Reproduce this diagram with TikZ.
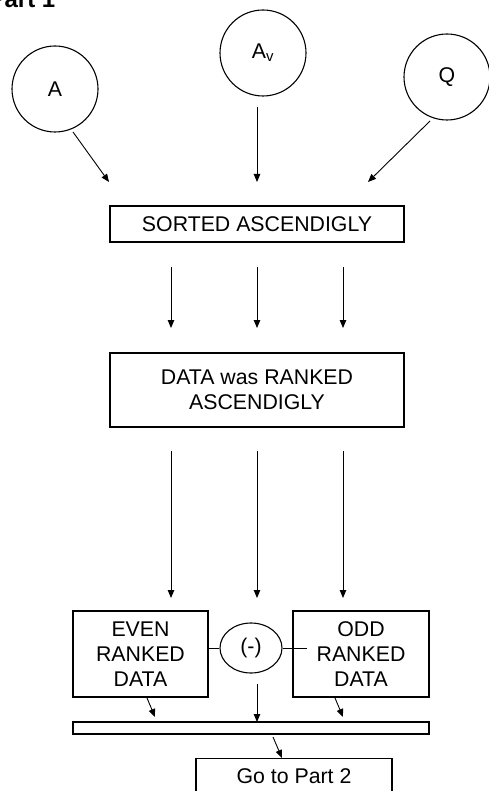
\documentclass[tikz,border=0pt]{standalone}
\usepackage{fontspec}
\setmainfont{Liberation Sans}
\usetikzlibrary{arrows.meta,shapes.geometric}
\begin{document}
\begin{tikzpicture}[x=1pt,y=-1pt,
  txt/.style={font=\fontsize{21.3}{25}\selectfont},
  box/.style={txt,draw,line width=1.1pt,inner sep=0pt,align=center},
  circ/.style={txt,draw,circle,line width=1.1pt,minimum size=86pt,inner sep=0pt},
  arr/.style={line width=0.9pt,-{Triangle[length=8pt,width=6.5pt]}},
  ln/.style={line width=0.9pt}]
\useasboundingbox (0,0) rectangle (489,791);
% title
\node[font=\bfseries\fontsize{24}{28}\selectfont,anchor=base east,inner sep=0pt] (title) at (55.5,8) {Part 1};
% circles
\node[circ] (A) at (55,89) {A};
\node[circ] (Av) at (263,53) {A\textsubscript{v}};
\node[circ] (Q) at (447,77) {Q};
% boxes
\node[box,minimum width=294pt,minimum height=36pt] (sorted) at (257,224) {SORTED ASCENDIGLY};
\node[box,minimum width=294pt,minimum height=74pt] (ranked) at (257,390) {DATA was RANKED\\ASCENDIGLY};
\node[box,minimum width=135pt,minimum height=86pt] (even) at (140.5,654) {EVEN\\RANKED\\DATA};
\node[box,minimum width=136pt,minimum height=86pt] (odd) at (361,654) {ODD\\RANKED\\DATA};
\node[txt,draw,ellipse,line width=1.1pt,minimum width=62pt,minimum height=50pt,inner sep=0pt] (minus) at (251,648) {(-)};
\node[draw,line width=1.1pt,minimum width=356pt,minimum height=12pt,inner sep=0pt] (bar) at (251,728) {};
\node[box,anchor=north,minimum width=196pt,text height=15pt,text depth=4pt,inner ysep=9.5pt] (go) at (294,758) {Go to Part 2};
% arrows from circles
\coordinate (a1) at (73,132); \coordinate (a2) at (109,182);
\coordinate (v1) at (257,107); \coordinate (v2) at (257,182);
\coordinate (q1) at (430,121); \coordinate (q2) at (368,182);
\draw[arr] (a1) -- (a2);
\draw[arr] (v1) -- (v2);
\draw[arr] (q1) -- (q2);
% arrows between sorted and ranked, and below ranked
\foreach \x [count=\i] in {171,257,343}{
  \coordinate (m\i a) at (\x,267); \coordinate (m\i b) at (\x,328);
  \draw[arr] (m\i a) -- (m\i b);
  \coordinate (l\i a) at (\x,451); \coordinate (l\i b) at (\x,598);
  \draw[arr] (l\i a) -- (l\i b);
}
% links to minus
\draw[ln] (minus.west) -- (minus.west -| even.east);
\coordinate (mr) at (307,648);
\draw[ln] (minus.east) -- (mr);
% small arrows to bar
\coordinate (e1) at (147,698); \coordinate (e2) at (155,717);
\coordinate (c1) at (257,684); \coordinate (c2) at (257,722);
\coordinate (o1) at (335,698); \coordinate (o2) at (343,717);
\coordinate (g1) at (273,737); \coordinate (g2) at (282,758);
\draw[arr] (e1) -- (e2);
\draw[arr] (c1) -- (c2);
\draw[arr] (o1) -- (o2);
\draw[arr] (g1) -- (g2);
\end{tikzpicture}
\end{document}
